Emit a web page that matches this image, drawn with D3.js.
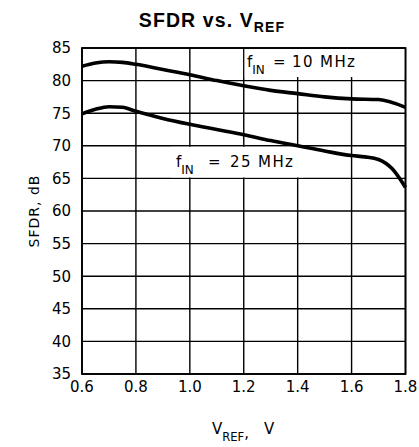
<!DOCTYPE html>
<html><head><meta charset="utf-8">
<script src="https://cdn.jsdelivr.net/npm/d3@7"></script>
<style>
body{margin:0;background:#fff;}
text{font-family:"DejaVu Sans",Arial,Helvetica,sans-serif;fill:#000;}
</style></head>
<body><svg id="c" width="419" height="447"></svg>
<script>
const xTicks = [0.6, 0.8, 1.0, 1.2, 1.4, 1.6, 1.8];
const yTicks = [35, 40, 45, 50, 55, 60, 65, 70, 75, 80, 85];
const vref10 = [0.6, 0.65, 0.7, 0.75, 0.8, 0.9, 1.0, 1.1, 1.2, 1.3, 1.4, 1.5, 1.6, 1.7, 1.8];
const sfdr10 = [82.2, 82.7, 82.9, 82.8, 82.5, 81.7, 80.9, 80.0, 79.2, 78.5, 78.0, 77.5, 77.2, 77.1, 75.9];
const vref25 = [0.6, 0.65, 0.7, 0.75, 0.8, 0.9, 1.0, 1.1, 1.2, 1.3, 1.4, 1.5, 1.6, 1.65, 1.7, 1.75, 1.8];
const sfdr25 = [74.9, 75.6, 76.0, 75.9, 75.3, 74.2, 73.3, 72.5, 71.7, 70.8, 70.0, 69.2, 68.5, 68.3, 67.9, 66.5, 63.6];

const svg = d3.select("#c");
const L = 82, R = 405.5, T = 48, B = 374;
const x = d3.scaleLinear().domain([0.6, 1.8]).range([L, R]);
const y = d3.scaleLinear().domain([35, 85]).range([B, T]);

// grid
const g = svg.append("g");
g.selectAll("line.v").data(xTicks).join("line")
  .attr("x1", d => x(d)).attr("x2", d => x(d)).attr("y1", T).attr("y2", B)
  .attr("stroke", "#000").attr("stroke-width", 1.4);
g.selectAll("line.h").data(yTicks).join("line")
  .attr("x1", L).attr("x2", R).attr("y1", d => y(d)).attr("y2", d => y(d))
  .attr("stroke", "#000").attr("stroke-width", 1.4);

// label boxes (mask gridlines)
svg.append("rect").attr("x", x(1.2) + 1).attr("y", y(85) + 1)
  .attr("width", x(1.8) - x(1.2) - 2).attr("height", y(80.7) - y(85))
  .attr("fill", "#fff");
svg.append("rect").attr("x", x(0.93)).attr("y", y(70) + 1)
  .attr("width", x(1.42) - x(0.93)).attr("height", y(65) - y(70) - 2)
  .attr("fill", "#fff");

// border
svg.append("rect").attr("x", L).attr("y", T).attr("width", R - L).attr("height", B - T)
  .attr("fill", "none").attr("stroke", "#000").attr("stroke-width", 1.8);

// curves
const line = d3.line().x(d => x(d[0])).y(d => y(d[1])).curve(d3.curveMonotoneX);
svg.append("path").datum(vref10.map((v, i) => [v, sfdr10[i]]))
  .attr("d", line).attr("fill", "none").attr("stroke", "#000").attr("stroke-width", 3.6);
svg.append("path").datum(vref25.map((v, i) => [v, sfdr25[i]]))
  .attr("d", line).attr("fill", "none").attr("stroke", "#000").attr("stroke-width", 3.6);

// tick labels
svg.selectAll("text.yt").data(yTicks).join("text")
  .attr("x", 71).attr("y", d => y(d)).attr("dy", "0.36em")
  .attr("text-anchor", "end").attr("font-size", 15)
  .text(d => d);
svg.selectAll("text.xt").data(xTicks).join("text")
  .attr("x", d => x(d)).attr("y", 392)
  .attr("text-anchor", "middle").attr("font-size", 15)
  .text(d => d.toFixed(1));

// title
const title = svg.append("text").attr("x", 212).attr("y", 27)
  .attr("text-anchor", "middle").attr("font-weight", "bold").attr("font-size", 19.5)
  .attr("letter-spacing", 1.1)
  .style("font-family", "'Liberation Sans', Arial, sans-serif");
title.append("tspan").text("SFDR vs. V");
title.append("tspan").attr("dy", 5).attr("font-size", 14).text("REF");

// axis labels
svg.append("text").attr("transform", "translate(39," + ((T + B) / 2) + ") rotate(-90)")
  .attr("text-anchor", "middle").attr("font-size", 14).attr("letter-spacing", 1)
  .text("SFDR, dB");
const xl = svg.append("text").attr("x", 212).attr("y", 434).attr("font-size", 15);
xl.append("tspan").text("V");
xl.append("tspan").attr("dy", 7).attr("font-size", 11.5).text("REF");
xl.append("tspan").attr("dy", -3).text(",");
xl.append("tspan").attr("x", 264).attr("dy", -4).text("V");

// series annotations
function ann(px, py, eqOff, valOff, val) {
  const t = svg.append("text").attr("x", px).attr("y", py).attr("font-size", 15);
  t.append("tspan").text("f");
  t.append("tspan").attr("dy", 7).attr("font-size", 12).text("IN");
  t.append("tspan").attr("dy", -7).attr("x", px + eqOff).text("=");
  t.append("tspan").attr("x", px + valOff).attr("letter-spacing", 1.4).text(val);
}
ann(247, 67, 26, 45, "10 MHz");
ann(176, 166.5, 32, 54, "25 MHz");
</script></body></html>
